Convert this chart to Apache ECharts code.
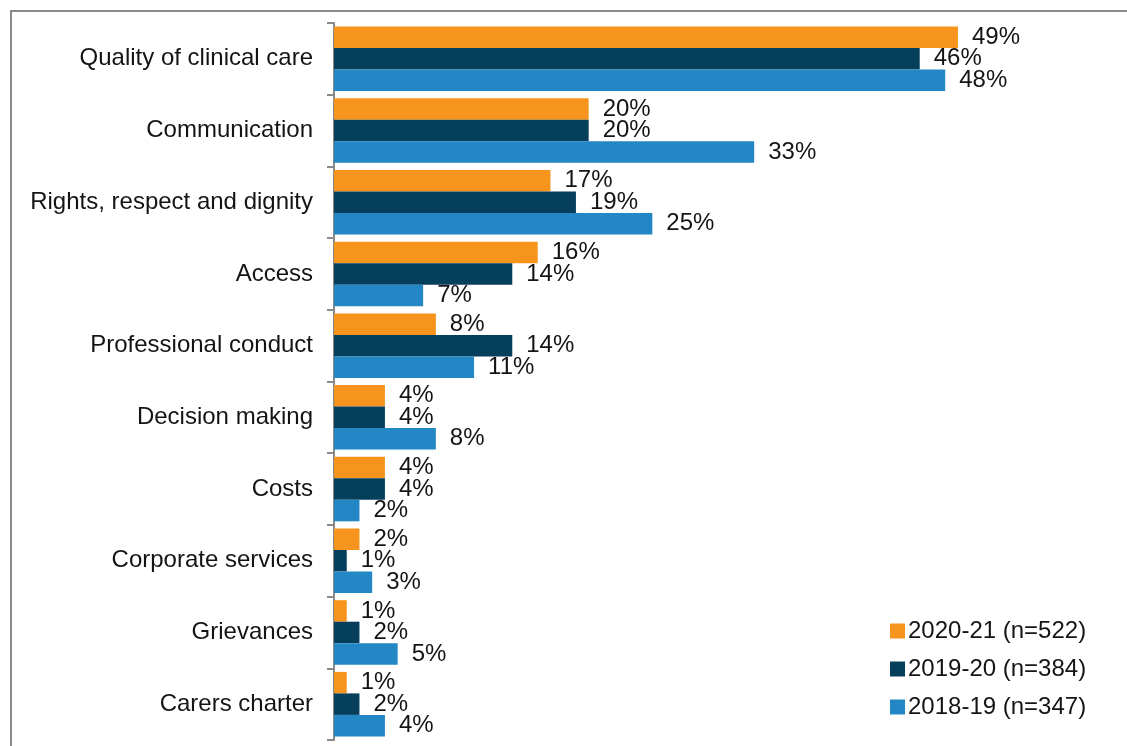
<!DOCTYPE html>
<html>
<head>
<meta charset="utf-8">
<script src="https://cdn.jsdelivr.net/npm/echarts@6/dist/echarts.min.js"></script>
<style>
  html, body { margin: 0; padding: 0; background: #fff; }
  #chart { width: 1127px; height: 746px; }
</style>
</head>
<body>
<div id="chart"></div>
<script>
// Complaint issue categories, top to bottom
const categories = [
  'Quality of clinical care',
  'Communication',
  'Rights, respect and dignity',
  'Access',
  'Professional conduct',
  'Decision making',
  'Costs',
  'Corporate services',
  'Grievances',
  'Carers charter'
];

// Share of complaints (%) per year
const seriesNames = ['2020-21 (n=522)', '2019-20 (n=384)', '2018-19 (n=347)'];
const values2021 = [49, 20, 17, 16, 8, 4, 4, 2, 1, 1];
const values1920 = [46, 20, 19, 14, 14, 4, 4, 1, 2, 2];
const values1819 = [48, 33, 25, 7, 11, 8, 2, 3, 5, 4];
const colors = ['#F7941D', '#063F5C', '#2387C6'];

const FONT = 'Liberation Sans, Arial, sans-serif';
const TEXT = '#141414';

const chart = echarts.init(document.getElementById('chart'), null, { renderer: 'canvas' });

const labelStyle = {
  show: true,
  position: 'right',
  distance: 14,
  formatter: p => p.value + '%',
  color: TEXT,
  fontFamily: FONT,
  fontSize: 24
};

function makeSeries(name, data, color) {
  return {
    name: name,
    type: 'bar',
    data: data,
    barGap: '0%',
    barCategoryGap: '10%',
    itemStyle: { color: color },
    label: labelStyle
  };
}

chart.setOption({
  animation: false,
  color: colors,
  grid: { left: 334, right: 29, top: 23, bottom: 6, containLabel: false },
  graphic: [
    {
      type: 'polyline',
      shape: { points: [[11, 746], [11, 11], [1127, 11]] },
      style: { stroke: '#8a8a8a', lineWidth: 2, fill: null }
    }
  ],
  legend: {
    orient: 'vertical',
    left: 885,
    top: 614,
    itemWidth: 15,
    itemHeight: 15,
    itemGap: 14,
    icon: 'rect',
    textStyle: {
      color: TEXT,
      fontFamily: FONT,
      fontSize: 24,
      padding: [0, 0, 0, -2]
    },
    data: seriesNames
  },
  xAxis: {
    type: 'value',
    min: 0,
    max: 60,
    show: false
  },
  yAxis: {
    type: 'category',
    data: categories,
    inverse: true,
    axisLine: { lineStyle: { color: '#8a8a8a', width: 2 } },
    axisTick: { show: true, length: 7, lineStyle: { color: '#8a8a8a', width: 2 } },
    axisLabel: {
      margin: 21,
      color: TEXT,
      fontFamily: FONT,
      fontSize: 24
    },
    splitLine: { show: false }
  },
  series: [
    makeSeries(seriesNames[0], values2021, colors[0]),
    makeSeries(seriesNames[1], values1920, colors[1]),
    makeSeries(seriesNames[2], values1819, colors[2])
  ]
});
</script>
</body>
</html>
